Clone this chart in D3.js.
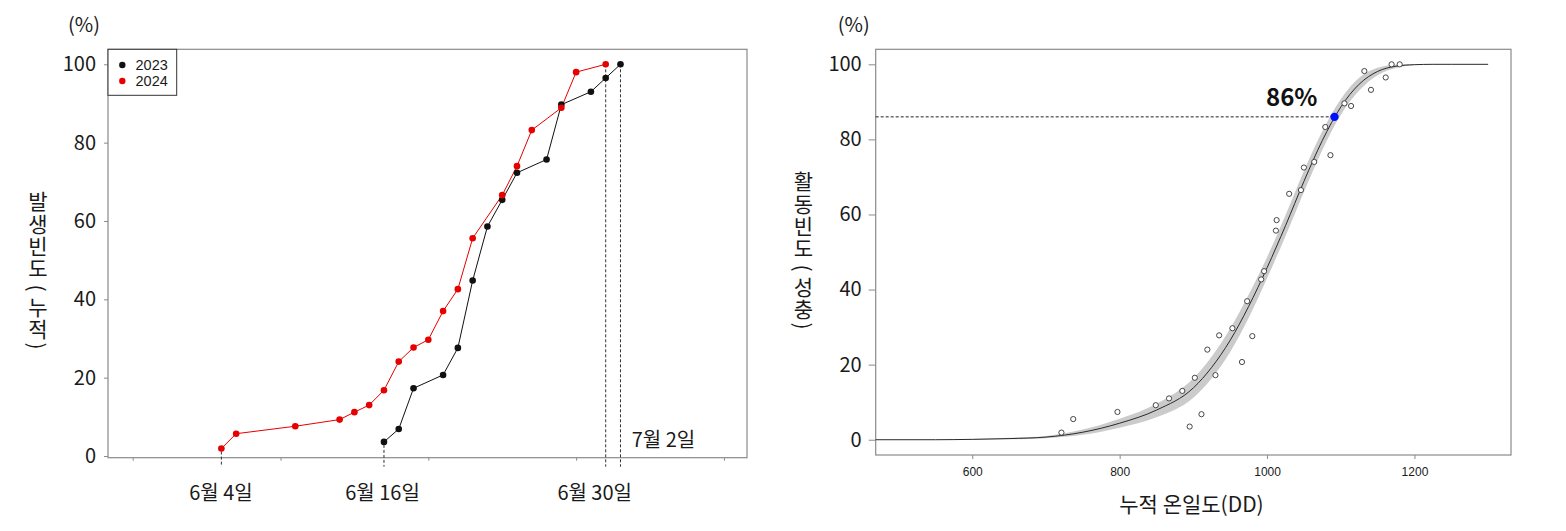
<!DOCTYPE html>
<html><head><meta charset="utf-8">
<script src="https://cdn.jsdelivr.net/npm/d3@7"></script>
<style>
html,body{margin:0;padding:0;background:#fff;}
#wrap{position:relative;width:1566px;height:531px;}
svg{display:block;}
.vtitle{position:absolute;width:30px;font-family:'Noto Sans CJK KR','Noto Sans',sans-serif;font-size:21px;color:#1a1a1a;}
.vtitle .hb{width:22px;margin:0 auto;text-align:center;line-height:22.3px;word-break:break-all;}
.vtitle .par{height:14px;line-height:14px;text-align:center;}
.vtitle .par span{display:inline-block;line-height:14px;transform:rotate(90deg);}
.vtitle .sp{height:2px;}
</style></head>
<body>
<div id="wrap">
<svg id="chart" width="1566" height="531"></svg>
</div>
<script>
// ---------- Left chart data (x = day of year) ----------
const doy2023 = [167,168,169,171,172,173,174,175,176,178,179,181,182,183];
const val2023 = [3.6,6.9,17.3,20.7,27.6,44.8,58.6,65.4,72.3,75.7,89.7,93.0,96.5,100];
const doy2024 = [156,157,161,164,165,166,167,168,169,170,171,172,173,175,176,177,179,180,182];
const val2024 = [1.9,5.7,7.6,9.3,11.2,13.0,16.8,24.1,27.7,29.7,37.0,42.6,55.6,66.6,74.0,83.2,88.9,98.0,100];
const seriesNames = ["2023","2024"];
const markerLabels = ["6월 4일","6월 16일","6월 30일","7월 2일"];
const markerDOY = [156,167,182,183];
const markerTopVal = [1.9,3.6,100,100];
const leftYTicks = [0,20,40,60,80,100];
const leftXTicks = [150,160,170,180,190];
const leftYTitle = ["발생빈도","누적"];   // shown as 발생빈도 (누적)

// ---------- Right chart data (x = cumulative degree-days) ----------
const obsDD  = [721,737,797,849,867,885,895,902,911,919,930,935,953,966,973,980,992,996,1012,1013,1030,1046,1050,1064,1079,1086,1105,1114,1132,1141,1161,1169,1180];
const obsVal = [1.9,5.5,7.4,9.2,11.0,13.0,3.5,16.5,6.8,24.0,17.2,27.8,29.7,20.7,36.9,27.6,42.7,44.9,55.7,58.5,65.5,66.5,72.5,74.0,83.3,75.8,89.6,88.9,98.2,93.2,96.5,100,100];
const curveDD  = [469,550,600,650,700,750,800,850,900,925,950,975,1000,1025,1050,1075,1100,1125,1150,1175,1200,1225,1250,1300];
const curveVal = [0,0,0.1,0.3,0.7,2.0,4.4,7.9,13.8,19.3,26.5,35.5,45.8,57.0,68.8,79.7,88.6,94.7,98.1,99.5,99.9,100,100,100];
const bandLo   = [0,0,0,0.1,0.4,1.3,3.2,6.0,11.2,16.4,23.4,32.4,43.0,54.2,66.0,77.2,86.5,93.0,97.1,99.0,99.8,100,100,100];
const bandHi   = [0,0,0.2,0.5,1.0,2.7,5.6,9.6,16.4,22.2,29.6,38.6,48.6,59.8,71.6,82.2,90.7,96.4,99.1,99.9,100,100,100,100];
const markDD = 1091.5, markVal = 86, markLabel = "86%";
const rightYTicks = [0,20,40,60,80,100];
const rightXTicks = [600,800,1000,1200];
const rightYTitle = ["활동빈도","성충"];  // shown as 활동빈도 (성충)
const rightXTitle = "누적 온일도(DD)";

const svg = d3.select("#chart");
const KR = "'Noto Sans CJK KR','Noto Sans',sans-serif";
const AR = "'Liberation Sans',Arial,sans-serif";
const frameCol = "#8a8a8a", txtCol = "#1a1a1a";

// ================= LEFT CHART =================
const xL = d3.scaleLinear().domain([148.33,191.56]).range([108,747]);
const yL = d3.scaleLinear().domain([-0.43,103.83]).range([457.7,49.3]);
const gL = svg.append("g");

gL.append("rect").attr("x",108).attr("y",49.3).attr("width",747-108).attr("height",457.7-49.3)
  .attr("fill","none").attr("stroke",frameCol).attr("stroke-width",1.2);

const yAxL = gL.append("g").attr("transform","translate(108,0)")
  .call(d3.axisLeft(yL).tickValues(leftYTicks).tickSize(4).tickPadding(8).tickFormat(d3.format("d")));
yAxL.select(".domain").remove();
yAxL.selectAll("line").attr("stroke",frameCol);
yAxL.selectAll("text").attr("font-family",KR).attr("font-size",20).attr("fill",txtCol);

const xAxL = gL.append("g").attr("transform","translate(0,457.7)")
  .call(d3.axisBottom(xL).tickValues(leftXTicks).tickSize(3).tickFormat(""));
xAxL.select(".domain").remove();
xAxL.selectAll("line").attr("stroke",frameCol);

markerDOY.forEach((d,i)=>{
  gL.append("line").attr("x1",xL(d)).attr("x2",xL(d))
    .attr("y1",yL(markerTopVal[i])+ (i<2?3:0)).attr("y2",466.7)
    .attr("stroke","#333").attr("stroke-width",1).attr("stroke-dasharray","3,2");
});
const labPos = [[221,500,"middle"],[382.5,500,"middle"],[594.7,500,"middle"],[631.7,447,"start"]];
markerLabels.forEach((t,i)=>{
  gL.append("text").attr("x",labPos[i][0]).attr("y",labPos[i][1]).attr("text-anchor",labPos[i][2])
    .attr("font-family",KR).attr("font-size",20).attr("fill",txtCol).text(t);
});

const lineL = d3.line().x(d=>xL(d[0])).y(d=>yL(d[1]));
const s2023 = doy2023.map((d,i)=>[d,val2023[i]]);
const s2024 = doy2024.map((d,i)=>[d,val2024[i]]);
const cols = ["#111","#e60000"];
[s2023,s2024].forEach((s,k)=>{
  gL.append("path").datum(s).attr("d",lineL).attr("fill","none").attr("stroke",cols[k]).attr("stroke-width",1);
});
[s2023,s2024].forEach((s,k)=>{
  gL.selectAll(null).data(s).enter().append("circle")
    .attr("cx",d=>xL(d[0])).attr("cy",d=>yL(d[1])).attr("r",3.3).attr("fill",cols[k]);
});

const leg = gL.append("g");
leg.append("rect").attr("x",108).attr("y",49.3).attr("width",68.7).attr("height",46)
  .attr("fill","#fff").attr("stroke","#333").attr("stroke-width",1);
seriesNames.forEach((n,i)=>{
  leg.append("circle").attr("cx",122.3).attr("cy",65+16*i).attr("r",3.2).attr("fill",cols[i]);
  leg.append("text").attr("x",135.5).attr("y",65+16*i+5).attr("font-family",AR).attr("font-size",14.5)
    .attr("fill",txtCol).text(n);
});

gL.append("text").attr("x",84).attr("y",32).attr("text-anchor","middle")
  .attr("font-family",KR).attr("font-size",20).attr("fill",txtCol).text("(%)");

// ================= RIGHT CHART =================
const xR = d3.scaleLinear().domain([469,1331]).range([875.7,1511]);
const yR = d3.scaleLinear().domain([-4.07,104]).range([455,49.3]);
const gR = svg.append("g");

gR.append("rect").attr("x",875.7).attr("y",49.3).attr("width",1511-875.7).attr("height",455-49.3)
  .attr("fill","none").attr("stroke",frameCol).attr("stroke-width",1.2);

const yAxR = gR.append("g").attr("transform","translate(875.7,0)")
  .call(d3.axisLeft(yR).tickValues(rightYTicks).tickSize(7).tickPadding(7).tickFormat(d3.format("d")));
yAxR.select(".domain").remove();
yAxR.selectAll("line").attr("stroke",frameCol);
yAxR.selectAll("text").attr("font-family",KR).attr("font-size",20).attr("fill",txtCol);

const xAxR = gR.append("g").attr("transform","translate(0,455)")
  .call(d3.axisBottom(xR).tickValues(rightXTicks).tickSize(4).tickPadding(8).tickFormat(d3.format("d")));
xAxR.select(".domain").remove();
xAxR.selectAll("line").attr("stroke",frameCol);
xAxR.selectAll("text").attr("font-family",AR).attr("font-size",12).attr("fill",txtCol);

const band = curveDD.map((d,i)=>[d,bandLo[i],bandHi[i]]);
gR.append("path").datum(band)
  .attr("d",d3.area().x(d=>xR(d[0])).y0(d=>yR(d[1])).y1(d=>yR(d[2])).curve(d3.curveMonotoneX))
  .attr("fill","#cbcbcb");
const curve = curveDD.map((d,i)=>[d,curveVal[i]]);
gR.append("path").datum(curve)
  .attr("d",d3.line().x(d=>xR(d[0])).y(d=>yR(d[1])).curve(d3.curveMonotoneX))
  .attr("fill","none").attr("stroke","#2a2a2a").attr("stroke-width",1);

gR.append("line").attr("x1",875.7).attr("x2",xR(markDD)).attr("y1",yR(markVal)).attr("y2",yR(markVal))
  .attr("stroke","#222").attr("stroke-width",1).attr("stroke-dasharray","3,2");

gR.selectAll(null).data(obsDD.map((d,i)=>[d,obsVal[i]])).enter().append("circle")
  .attr("cx",d=>xR(d[0])).attr("cy",d=>yR(d[1])).attr("r",2.6)
  .attr("fill","#fff").attr("stroke","#333").attr("stroke-width",0.9);

gR.append("circle").attr("cx",xR(markDD)).attr("cy",yR(markVal)).attr("r",4.2).attr("fill","#0010ff");
gR.append("text").attr("x",1291.7).attr("y",106).attr("text-anchor","middle")
  .attr("font-family",KR).attr("font-weight","bold").attr("font-size",24).attr("fill","#111").text(markLabel);

gR.append("text").attr("x",853.8).attr("y",32).attr("text-anchor","middle")
  .attr("font-family",KR).attr("font-size",20).attr("fill",txtCol).text("(%)");
gR.append("text").attr("x",1191.5).attr("y",512).attr("text-anchor","middle")
  .attr("font-family",KR).attr("font-size",21).attr("fill",txtCol).text(rightXTitle);

// vertical axis titles: stacked upright Hangul, parentheses turned sideways
const wrap = d3.select("#wrap");
function vTitle(parts, cx, top){
  const div = wrap.append("div").attr("class","vtitle").style("left",(cx-15)+"px").style("top",top+"px");
  div.append("div").attr("class","hb").text(parts[0]);
  div.append("div").attr("class","sp");
  div.append("div").attr("class","par").append("span").text("(");
  div.append("div").attr("class","hb").text(parts[1]);
  div.append("div").attr("class","par").append("span").text(")");
}
vTitle(leftYTitle, 38, 189.4);
vTitle(rightYTitle, 803.3, 169.4);
</script>
</body></html>
